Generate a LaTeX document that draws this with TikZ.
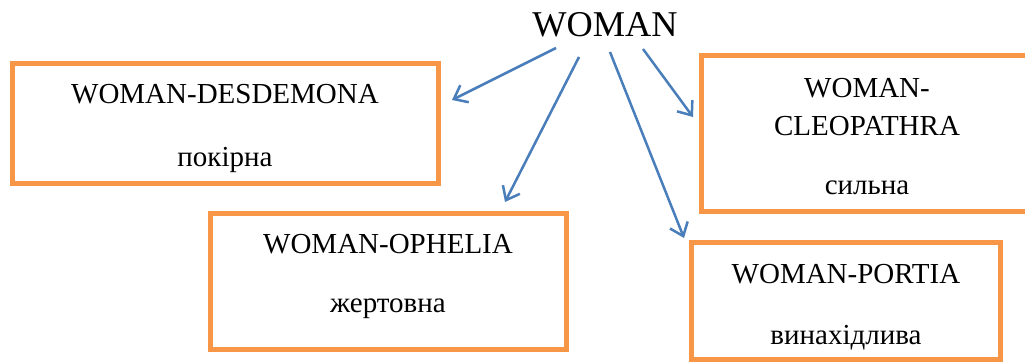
\documentclass[tikz,border=0pt]{standalone}
\usepackage{fontspec}
\setmainfont{Liberation Serif}
\usetikzlibrary{arrows.meta}
\definecolor{boxorange}{HTML}{F79646}
\definecolor{arrowblue}{HTML}{4A7EBB}
\begin{document}
\begin{tikzpicture}[x=1pt,y=-1pt,
  frame/.style={draw=boxorange,line width=5pt,fill=white},
  lbl/.style={inner sep=0pt,font=\fontsize{29}{32}\selectfont,anchor=center},
  conn/.style={draw=arrowblue,line width=2.5pt,-{Straight Barb[length=12pt,width=19pt,line width=2.5pt]}}]
\useasboundingbox (0,0) rectangle (1025,363);
% boxes
\draw[frame] (12,64) rectangle (438,184);
\draw[frame] (210,214) rectangle (566,349);
\draw[frame] (701,56) rectangle (1035,212);
\draw[frame] (691,243) rectangle (1000,359);
% title
\node[inner sep=0pt,font=\fontsize{36.3}{40}\selectfont] (w) at (605,25) {WOMAN};
% texts
\node[lbl] (d1) at (225,94) {WOMAN-DESDEMONA};
\node[lbl] (d2) at (225,160) {покірна};
\node[lbl] (o1) at (388,244) {WOMAN-OPHELIA};
\node[lbl] (o2) at (388,309) {жертовна};
\node[lbl] (c1) at (867,88) {WOMAN-};
\node[lbl] (c2) at (867,126) {CLEOPATHRA};
\node[lbl] (c3) at (867,188) {сильна};
\node[lbl] (p1) at (846,274) {WOMAN-PORTIA};
\node[lbl] (p2) at (846,338) {винахідлива};
% connector ends
\coordinate (s1) at (556,48);
\coordinate (e1) at (452,100);
\coordinate (s2) at (579,57);
\coordinate (e2) at (505,202);
\coordinate (s3) at (610,52);
\coordinate (e3) at (684,238);
\coordinate (s4) at (643,49);
\coordinate (e4) at (693,117);
\draw[conn] (s1) -- (e1);
\draw[conn] (s2) -- (e2);
\draw[conn] (s3) -- (e3);
\draw[conn] (s4) -- (e4);
\end{tikzpicture}
\end{document}
